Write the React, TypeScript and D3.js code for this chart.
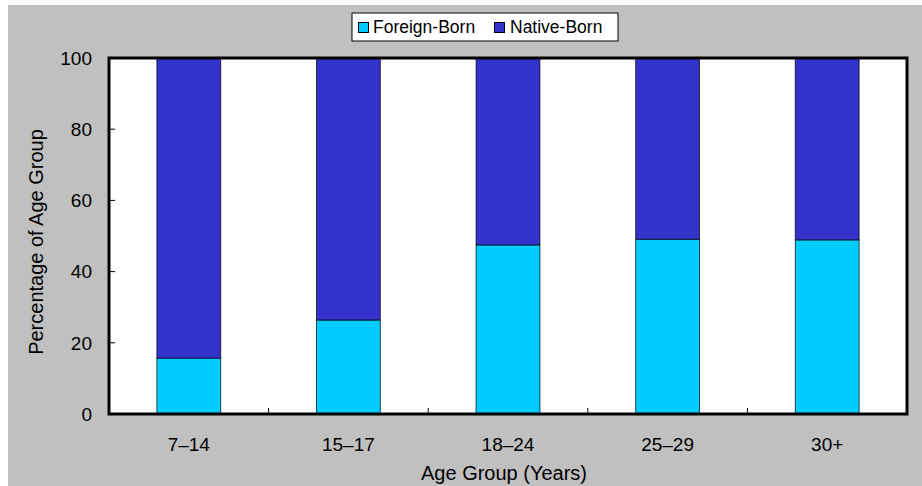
import React from "react";
import * as d3 from "d3";

const categories = ["7–14", "15–17", "18–24", "25–29", "30+"];
const foreignBorn = [15.7, 26.4, 47.5, 49.1, 48.9];
const nativeBorn = [84.3, 73.6, 52.5, 50.9, 51.1];
const seriesNames = ["Foreign-Born", "Native-Born"];
const seriesColors = ["#00CCFF", "#3333CC"];
const yTicks = [0, 20, 40, 60, 80, 100];

const W = 922;
const H = 486;
const left = 109;
const right = 907;
const top = 58;
const bottom = 414;
const FONT = "'Liberation Sans', Arial, sans-serif";

export default function App() {
  const x = d3
    .scaleBand<string>()
    .domain(categories)
    .range([left, right])
    .paddingInner(0.6)
    .paddingOuter(0.3);
  const y = d3.scaleLinear().domain([0, 100]).range([bottom, top]);

  const rows = categories.map((c, i) => ({
    cat: c,
    "Foreign-Born": foreignBorn[i],
    "Native-Born": nativeBorn[i],
  }));
  const stacked = d3.stack<any>().keys(seriesNames)(rows);
  const step = x.step();
  const boundaries = categories.slice(1).map((c) => (x(c) as number) - x.paddingInner() * step / 2 - (x.bandwidth() - x.bandwidth()) );

  return (
    <svg
      width={W}
      height={H}
      style={{ position: "absolute", left: 0, top: 0, display: "block" }}
      fontFamily={FONT}
    >
      <rect x={8} y={5} width={W - 8} height={H - 5} fill="#C0C0C0" />
      <rect x={left} y={top} width={right - left} height={bottom - top} fill="#FFFFFF" />

      {stacked.map((s, si) => (
        <g key={s.key}>
          {s.map((d, i) => (
            <rect
              key={i}
              x={x(categories[i])}
              y={y(d[1])}
              width={x.bandwidth()}
              height={y(d[0]) - y(d[1])}
              fill={seriesColors[si]}
              stroke="#000"
              strokeWidth={1}
              strokeOpacity={0.7}
            />
          ))}
        </g>
      ))}

      {/* y ticks inside */}
      {yTicks.map((t) => (
        <g key={t}>
          <line x1={left} x2={left + 6} y1={y(t)} y2={y(t)} stroke="#000" strokeWidth={1} />
          <text x={92} y={y(t)} dy="0.36em" textAnchor="end" fontSize={19} fill="#000">
            {t}
          </text>
        </g>
      ))}

      {/* x boundary ticks */}
      {boundaries.map((bx, i) => (
        <line key={i} x1={bx} x2={bx} y1={bottom} y2={bottom - 6} stroke="#000" strokeWidth={1} />
      ))}

      {categories.map((c) => (
        <text
          key={c}
          x={(x(c) as number) + x.bandwidth() / 2}
          y={451}
          textAnchor="middle"
          fontSize={19}
          fill="#000"
        >
          {c}
        </text>
      ))}

      <rect
        x={left}
        y={top}
        width={right - left}
        height={bottom - top}
        fill="none"
        stroke="#000"
        strokeWidth={3}
      />

      <text x={(left + right) / 2 - 4} y={480} textAnchor="middle" fontSize={20} fill="#000">
        Age Group (Years)
      </text>
      <text
        transform={`translate(43,${(top + bottom) / 2 + 6}) rotate(-90)`}
        textAnchor="middle"
        fontSize={20}
        fill="#000"
      >
        Percentage of Age Group
      </text>

      {/* legend */}
      <rect x={352} y={13} width={266} height={28} fill="#FFF" stroke="#000" strokeWidth={1} />
      <rect x={358.5} y={22.5} width={10} height={10} fill={seriesColors[0]} stroke="#000" strokeWidth={1} />
      <text x={373} y={33} fontSize={17.5} fill="#000">
        {seriesNames[0]}
      </text>
      <rect x={494.5} y={22.5} width={10} height={10} fill={seriesColors[1]} stroke="#000" strokeWidth={1} />
      <text x={510} y={33} fontSize={17.5} fill="#000">
        {seriesNames[1]}
      </text>
    </svg>
  );
}
